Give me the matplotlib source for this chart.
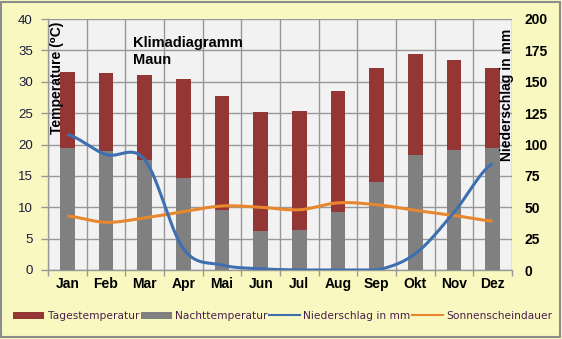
import numpy as np
import matplotlib
matplotlib.use("Agg")
import matplotlib.pyplot as plt
from matplotlib.patches import Rectangle, Patch
from matplotlib.lines import Line2D

months = ["Jan", "Feb", "Mar", "Apr", "Mai", "Jun", "Jul", "Aug", "Sep", "Okt", "Nov", "Dez"]
tages_temp = [31.6, 31.4, 31.1, 30.5, 27.8, 25.1, 25.4, 28.6, 32.2, 34.4, 33.5, 32.2]
nacht_temp = [19.5, 18.9, 17.6, 14.6, 9.5, 6.2, 6.3, 9.2, 14.0, 18.3, 19.2, 19.4]
niederschlag = [108, 92, 88, 17, 4, 1, 0, 0, 0, 13, 46, 85]
sonnenschein = [8.6, 7.6, 8.3, 9.3, 10.2, 10.0, 9.6, 10.7, 10.4, 9.5, 8.7, 7.8]

left_ticks = list(range(0, 41, 5))
right_ticks = list(range(0, 201, 25))

C_TAG = "#943634"
C_NACHT = "#808080"
C_RAIN = "#3e6fb0"
C_SUN = "#e8872e"
C_BG = "#f8f8c0"
C_PLOT = "#f2f2f2"
C_GRID = "#989898"
FONT = ["Liberation Sans", "DejaVu Sans"]


def smooth(y, n=30):
    """Excel-style smoothed line: Catmull-Rom segments through every point."""
    y = np.asarray(y, dtype=float)
    x = np.arange(len(y), dtype=float)
    xs, ys = [], []
    for i in range(len(y) - 1):
        p0 = y[i - 1] if i > 0 else y[i]
        p1, p2 = y[i], y[i + 1]
        p3 = y[i + 2] if i + 2 < len(y) else y[i + 1]
        t = np.linspace(0, 1, n, endpoint=False)
        h = 0.5 * ((2 * p1) + (-p0 + p2) * t + (2 * p0 - 5 * p1 + 4 * p2 - p3) * t ** 2
                   + (-p0 + 3 * p1 - 3 * p2 + p3) * t ** 3)
        xs.append(x[i] + t)
        ys.append(h)
    xs.append([x[-1]])
    ys.append([y[-1]])
    return np.concatenate(xs), np.concatenate(ys)


W, H = 562, 339
fig = plt.figure(figsize=(W / 100, H / 100), dpi=100)
fig.patch.set_facecolor(C_BG)
fig.patches.append(Rectangle((1 / W, 2 / H), (W - 3) / W, (H - 4) / H, transform=fig.transFigure,
                             fill=False, edgecolor="#8c8c8c", linewidth=1.5))

ax = fig.add_axes([48 / W, (H - 270) / H, (512 - 48) / W, (270 - 19) / H])
ax.set_facecolor(C_PLOT)
x = np.arange(len(months))
bw = 0.38
ax.bar(x, tages_temp, width=bw, color=C_TAG, zorder=2)
ax.bar(x, nacht_temp, width=bw, color=C_NACHT, zorder=3)
sx, sy = smooth(sonnenschein)
ax.plot(sx, sy, color=C_SUN, linewidth=2.2, zorder=5, solid_capstyle="butt")

ax.set_xlim(-0.5, len(months) - 0.5)
ax.set_ylim(0, 40)
ax.set_yticks(left_ticks)
ax.set_xticks(x)
ax.set_xticks(np.arange(-0.5, len(months), 1.0), minor=True)
ax.set_xticklabels(months, fontsize=10, fontweight="bold", fontfamily=FONT)
ax.tick_params(axis="x", which="major", length=0, pad=5)
ax.tick_params(axis="x", which="minor", length=4, color=C_GRID, width=1)
ax.tick_params(axis="y", length=5, color=C_GRID, width=1, pad=6, labelsize=9.5,
               labelcolor="#1a1a40")
for lab in ax.get_yticklabels():
    lab.set_fontfamily(FONT)
ax.grid(True, axis="y", color=C_GRID, linewidth=1, zorder=0)
ax.grid(True, axis="x", which="minor", color=C_GRID, linewidth=1, zorder=0)
ax.set_axisbelow(True)
for s in ["top", "right"]:
    ax.spines[s].set_visible(False)
for s in ["left", "bottom"]:
    ax.spines[s].set_color(C_GRID)
    ax.spines[s].set_linewidth(1)

ax2 = ax.twinx()
rx, ry = smooth(niederschlag)
ax2.plot(rx, np.clip(ry, 0, None), color=C_RAIN, linewidth=2.2, zorder=6, solid_capstyle="butt")
ax2.set_ylim(0, 200)
ax2.set_yticks(right_ticks)
ax2.tick_params(axis="y", length=0, pad=9, labelsize=10)
for lab in ax2.get_yticklabels():
    lab.set_fontfamily(FONT)
    lab.set_fontweight("bold")
for s in ax2.spines.values():
    s.set_visible(False)

fig.text(57 / W, 1 - 78 / H, "Temperature (\u2070C)", rotation=90, ha="center", va="center",
         fontsize=10, fontweight="bold", family=FONT)
fig.text(507 / W, 1 - 95 / H, "Niederschlag in mm", rotation=90, ha="center", va="center",
         fontsize=10, fontweight="bold", family=FONT)
fig.text(133 / W, 1 - 36 / H, "Klimadiagramm\nMaun", ha="left", va="top", fontsize=10.5,
         fontweight="bold", family=FONT, linespacing=1.3)

handles = [
    Patch(facecolor=C_TAG),
    Patch(facecolor=C_NACHT),
    Line2D([], [], color=C_RAIN, linewidth=1.5),
    Line2D([], [], color=C_SUN, linewidth=1.5),
]
labels = ["Tagestemperatur", "Nachttemperatur", "Niederschlag in mm", "Sonnenscheindauer"]
leg = fig.legend(handles, labels, loc="center", bbox_to_anchor=(283 / W, 1 - 316 / H), ncol=4,
                 frameon=False, fontsize=7.7, handlelength=2.9, handleheight=0.6,
                 handletextpad=0.3, columnspacing=0.15, borderaxespad=0)
for t in leg.get_texts():
    t.set_color("#4a1f4a")
    t.set_fontfamily("DejaVu Sans")

fig.savefig("out.png", dpi=100, facecolor=C_BG)
